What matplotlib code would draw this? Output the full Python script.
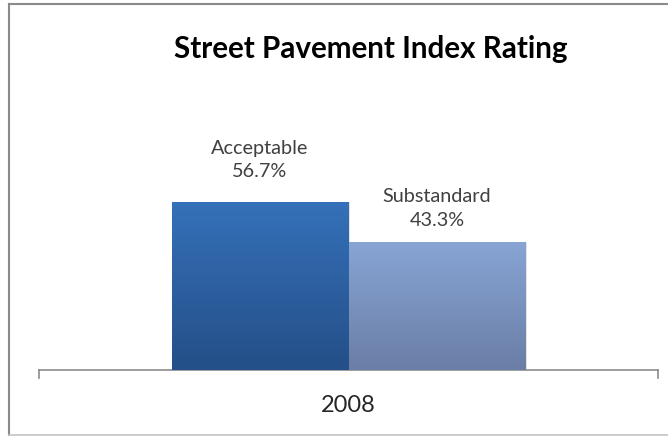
import numpy as np
import matplotlib
matplotlib.use("Agg")
import matplotlib.pyplot as plt
from matplotlib.colors import LinearSegmentedColormap
from matplotlib.lines import Line2D

# --- data ---
title = "Street Pavement Index Rating"
year = "2008"
categories = ["Acceptable", "Substandard"]
values = [56.7, 43.3]

# gradient colours (top, bottom) for each bar
bar_colors = [("#3571b9", "#244f88"), ("#88a5d5", "#6a7ea6")]

plt.rcParams["font.family"] = ["Lato", "DejaVu Sans"]

fig = plt.figure(figsize=(6.68, 4.36), dpi=100)
W, H = 668, 436

# plot area in pixels: x 39..658, baseline at y=370
ax = fig.add_axes([39 / W, (H - 370) / H, (658 - 39) / W, 177.8 / H])
ax.set_xlim(-0.5, 0.5)
ax.set_ylim(0, 60)

width = 177 / 619
xpos = [-width / 2, width / 2]
bars = ax.bar(xpos, values, width=width, color="none", edgecolor="none", zorder=2)

grad = np.linspace(0, 1, 256).reshape(-1, 1)
for bar, (top_c, bot_c) in zip(bars, bar_colors):
    x0, y0 = bar.get_x(), bar.get_y()
    w, h = bar.get_width(), bar.get_height()
    cmap = LinearSegmentedColormap.from_list("g", [bot_c, top_c])
    # soft shadow to the right
    ax.bar(x0 + w / 2 + 0.003, h, width=w, bottom=0, color="#e2e2e2",
           edgecolor="none", zorder=1)
    im = ax.imshow(grad, cmap=cmap, aspect="auto", origin="lower",
                   extent=[x0, x0 + w, y0, y0 + h], zorder=3)
    im.set_clip_path(bar)

# data labels
label_offsets = [22, 13]
for bar, cat, val, off in zip(bars, categories, values, label_offsets):
    ax.annotate(f"{cat}\n{val}%", (bar.get_x() + bar.get_width() / 2, val),
                xytext=(0, off * 0.72), textcoords="offset points",
                ha="center", va="bottom", fontsize=14.3, color="#404040",
                linespacing=1.45)

ax.set_xticks([0])
ax.set_xticklabels([year], fontsize=17, color="#262626")
ax.tick_params(axis="x", length=0, pad=18)
ax.set_yticks([])
for s in ["top", "right", "left"]:
    ax.spines[s].set_visible(False)
ax.spines["bottom"].set_color("#8c8c8c")
ax.spines["bottom"].set_linewidth(1.2)

# end ticks of the category axis
for xe in [-0.5, 0.5]:
    ax.plot([xe, xe], [0, -8 / 2.963], color="#8c8c8c", lw=1.2,
            clip_on=False, zorder=4)

# title
fig.text(371 / W, 1 - 49 / H, title, ha="center", va="center",
         fontsize=21.3, fontweight="bold", color="black")

# chart border
fig.add_artist(Line2D([8.5 / W, 1], [1 - 4.5 / H, 1 - 4.5 / H], color="#8a8a8a", lw=1.5))
fig.add_artist(Line2D([8.5 / W, 8.5 / W], [1 - 4.5 / H, 0.5 / H], color="#8a8a8a", lw=1.5))
fig.add_artist(Line2D([8.5 / W, 1], [0.8 / H, 0.8 / H], color="#c4c4c4", lw=1.2))

fig.savefig("out.png", dpi=100)
